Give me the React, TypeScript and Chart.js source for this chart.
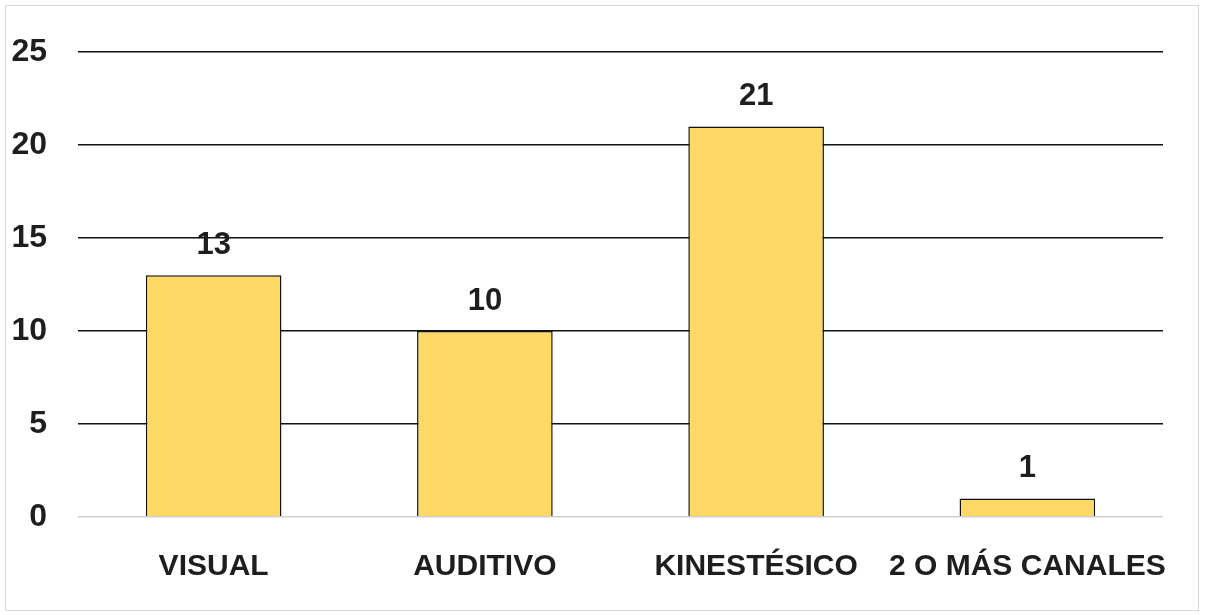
import React, { useEffect, useRef } from "react";
import { Chart, registerables } from "chart.js";

Chart.register(...registerables);

const categories = ["VISUAL", "AUDITIVO", "KINESTÉSICO", "2 O MÁS CANALES"];
const values = [13, 10, 21, 1];
const yTicks = [0, 5, 10, 15, 20, 25];

const FONT = "'Liberation Sans', Arial, sans-serif";
const TEXT = "#1e1e1e";

const dataLabels = {
  id: "dataLabels",
  afterDatasetsDraw(chart: any) {
    const ctx = chart.ctx;
    const meta = chart.getDatasetMeta(0);
    ctx.save();
    ctx.font = `bold 31px ${FONT}`;
    ctx.fillStyle = TEXT;
    ctx.textAlign = "center";
    ctx.textBaseline = "middle";
    meta.data.forEach((el: any, i: number) => {
      ctx.fillText(String(chart.data.datasets[0].data[i]), el.x, el.y - 30);
    });
    ctx.restore();
  },
};

export default function App() {
  const ref = useRef<HTMLCanvasElement | null>(null);
  useEffect(() => {
    document.body.style.margin = "0";
    const chart = new Chart(ref.current as HTMLCanvasElement, {
      type: "bar",
      data: {
        labels: categories,
        datasets: [
          {
            data: values,
            backgroundColor: "#FFD966",
            borderColor: "#111",
            borderWidth: 1.5,
            barPercentage: 0.5,
            categoryPercentage: 1,
          },
        ],
      },
      options: {
        animation: false,
        responsive: false,
        layout: { padding: { left: 0, right: 45, top: 52, bottom: 0 } },
        plugins: { legend: { display: false }, tooltip: { enabled: false } },
        scales: {
          x: {
            grid: { display: false },
            border: { display: false },
            ticks: {
              color: TEXT,
              font: { family: FONT, size: 30, weight: "bold" },
              padding: 24,
              maxRotation: 0,
              autoSkip: false,
            },
            afterFit(scale: any) {
              scale.height = 98;
            },
          },
          y: {
            min: 0,
            max: 25,
            afterBuildTicks(scale: any) {
              scale.ticks = yTicks.map((v) => ({ value: v }));
            },
            grid: {
              drawTicks: false,
              color: (c: any) => (c.tick && c.tick.value === 0 ? "#d0d0d0" : "#111"),
              lineWidth: 1.5,
            },
            border: { display: false },
            ticks: {
              color: TEXT,
              font: { family: FONT, size: 32, weight: "bold" },
              padding: 31,
            },
            afterFit(scale: any) {
              scale.width = 78;
            },
          },
        },
      },
      plugins: [dataLabels],
    });
    return () => chart.destroy();
  }, []);
  return (
    <div style={{ position: "relative", width: 1208, height: 615, background: "#fff" }}>
      <div
        style={{
          position: "absolute",
          left: 5,
          top: 5,
          width: 1192,
          height: 604,
          border: "1px solid #d9d9d9",
        }}
      />
      <canvas ref={ref} width={1208} height={615} style={{ position: "absolute", left: 0, top: 0 }} />
    </div>
  );
}
